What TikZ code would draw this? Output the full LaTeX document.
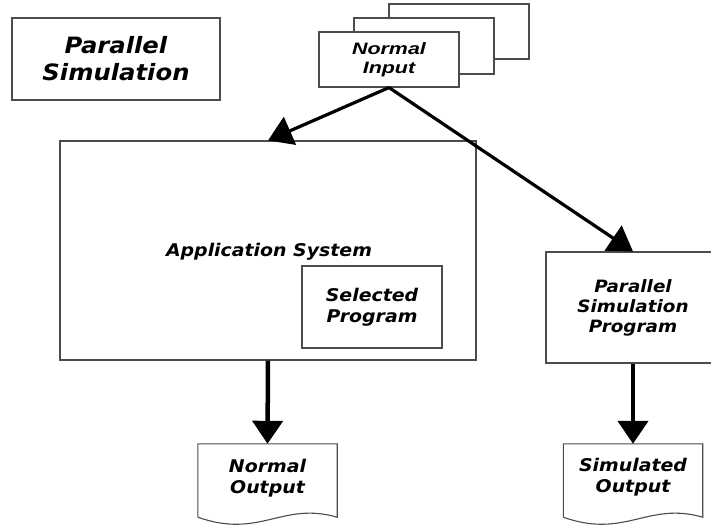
\documentclass[tikz,border=0pt]{standalone}
\usepackage{fontspec}
\usepackage{tikz}
\usetikzlibrary{arrows.meta}
\newfontfamily\handfont[FakeStretch=1.08]{DejaVu Sans}
\newfontfamily\inputfont[FakeStretch=1.3]{Liberation Sans}
\definecolor{boxgray}{rgb}{.3,.3,.3}

\tikzset{
  box/.style={draw=boxgray, line width=1.1pt, fill=white, inner sep=0pt},
  hand/.style={font=\handfont\bfseries\itshape\fontsize{17.5}{21.5}\selectfont, align=center},
  flow/.style={line width=3.2pt, -{Triangle[length=24pt,width=30pt]}},
  down/.style={line width=4.5pt, -{Triangle[length=23pt,width=30pt]}},
  sheet/.style={inner sep=0pt, minimum width=139pt, minimum height=73pt}
}
% sheet of paper with a wavy lower edge
\newcommand{\papersheet}[1]{%
  \draw[boxgray, line width=1.1pt] (#1.south west) -- (#1.north west) -- (#1.north east) -- (#1.south east)
    .. controls +(-55,-16) and +(62,22) .. (#1.south west);}

\begin{document}
\begin{tikzpicture}[x=1pt,y=-1pt]
  \useasboundingbox[fill=white] (0,0) rectangle (711,527);

  \node[box, minimum width=208pt, minimum height=82pt, hand,
        font=\handfont\bfseries\itshape\fontsize{22.5}{27}\selectfont] (title) at (116,59) {Parallel\\Simulation};

  % stack of input sheets
  \node[box, minimum width=140pt, minimum height=55pt] (stackc) at (459,31.5) {};
  \node[box, minimum width=140pt, minimum height=56pt] (stackb) at (424,46) {};
  \node[box, minimum width=140pt, minimum height=55pt, align=center,
        font=\inputfont\bfseries\itshape\fontsize{16.5}{19}\selectfont] (input) at (389,59.5) {Normal\\Input};

  \node[box, minimum width=416pt, minimum height=219pt] (app) at (268,250.5) {};
  \node[hand] (applabel) at (269,252) {Application System};
  \node[box, minimum width=140pt, minimum height=82pt, hand] (selected) at (372,307) {Selected\\Program};

  \node[box, minimum width=174pt, minimum height=111pt, hand,
        font=\handfont\bfseries\itshape\fontsize{17}{20}\selectfont] (parsim) at (633,307.5) {Parallel\\Simulation\\Program};

  \node[sheet] (normout) at (267.5,480.5) {};
  \node[hand] (normtext) at (267.5,478) {Normal\\Output};
  \papersheet{normout}
  \node[sheet] (simout) at (633,480.5) {};
  \node[hand] (simtext) at (633,477) {Simulated\\Output};
  \papersheet{simout}

  \draw[flow] (input.south) -- (app.north);
  \draw[flow] (input.south) -- (parsim.north);
  \draw[down] (app.south) -- (normout.north);
  \draw[down] (parsim.south) -- (simout.north);
\end{tikzpicture}
\end{document}
